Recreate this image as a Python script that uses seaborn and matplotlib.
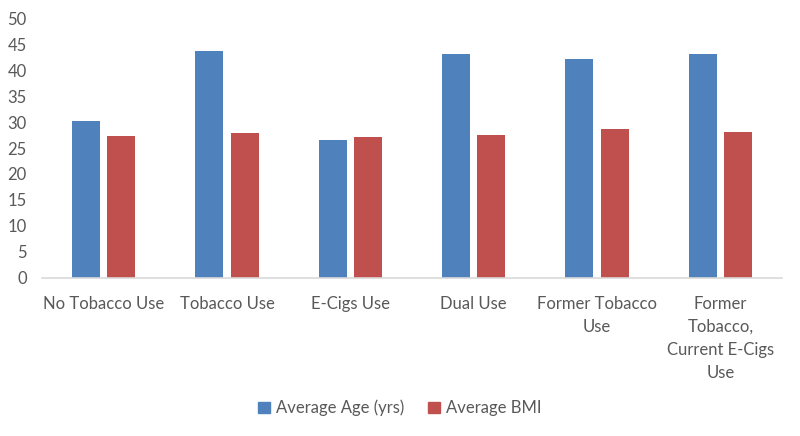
import numpy as np
import pandas as pd
import matplotlib.pyplot as plt
import seaborn as sns

# --- dati ---
categories = ["No Tobacco Use", "Tobacco Use", "E-Cigs Use", "Dual Use",
              "Former Tobacco\nUse", "Former\nTobacco,\nCurrent E-Cigs\nUse"]
avg_age = [30.3, 43.8, 26.5, 43.1, 42.2, 43.1]
avg_bmi = [27.4, 27.9, 27.1, 27.6, 28.7, 28.0]
series_names = ["Average Age (yrs)", "Average BMI"]
colors = ["#4F81BD", "#C0504D"]

df = pd.DataFrame({
    "categoria": categories * 2,
    "valore": avg_age + avg_bmi,
    "serie": [series_names[0]] * len(categories) + [series_names[1]] * len(categories),
})

sns.set_style("white")
plt.rcParams['font.family'] = ['Lato', 'DejaVu Sans']

fig = plt.figure(figsize=(8, 4.36), dpi=100)
ax = fig.add_axes([0.0525, 0.3635, 0.925, 0.594])

sns.barplot(data=df, x="categoria", y="valore", hue="serie",
            palette=colors, width=0.576, gap=0.21, saturation=1,
            edgecolor="none", ax=ax, legend=False)

ax.set_ylim(0, 50)
ax.set_yticks(np.arange(0, 51, 5))
ax.set_xlim(-0.5, len(categories) - 0.5)
ax.set_xlabel("")
ax.set_ylabel("")

for s in ["top", "right", "left"]:
    ax.spines[s].set_visible(False)
ax.spines["bottom"].set_color("#D9D9D9")
ax.spines["bottom"].set_linewidth(1.2)

ax.tick_params(axis="y", length=0, pad=11, labelsize=12, labelcolor="#595959")
ax.tick_params(axis="x", length=0, pad=13, labelsize=12, labelcolor="#595959")
for lab in ax.get_xticklabels():
    lab.set_linespacing(1.55)
    lab.set_verticalalignment("top")

# legenda in basso
handles = [plt.Rectangle((0, 0), 1, 1, color=c) for c in colors]
fig.legend(handles, series_names, loc="center", bbox_to_anchor=(0.5, 0.064),
           ncol=2, frameon=False, fontsize=12, labelcolor="#595959",
           handlelength=0.7, handleheight=0.7, handletextpad=0.4,
           columnspacing=1.4)

fig.savefig("out.png", dpi=100)
